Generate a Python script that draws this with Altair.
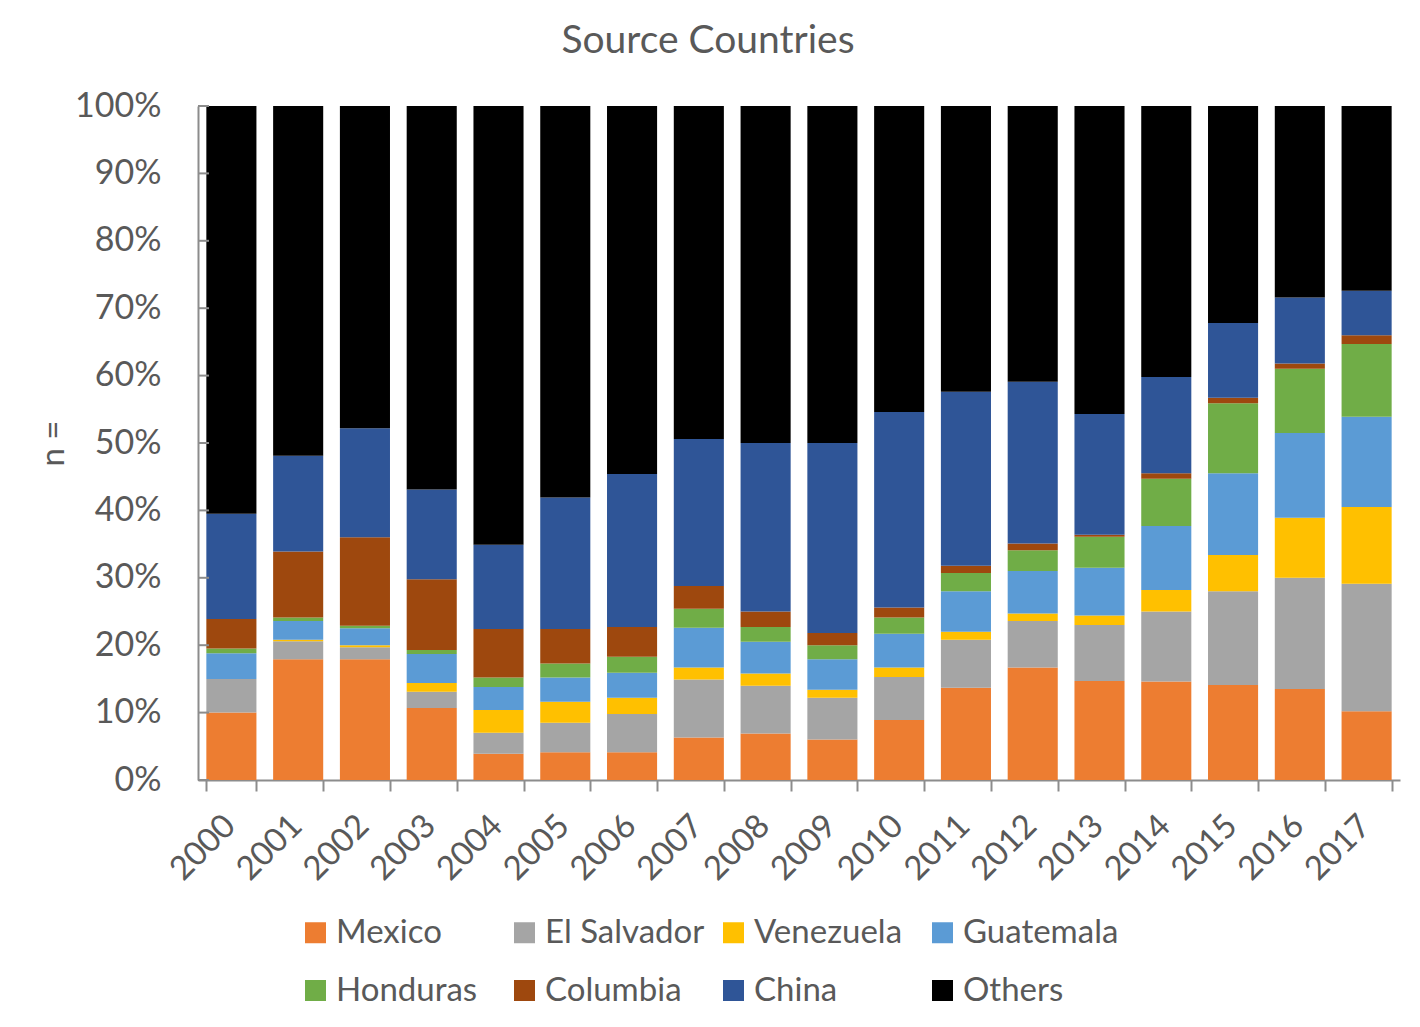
import altair as alt
import pandas as pd

years = ["2000", "2001", "2002", "2003", "2004", "2005", "2006", "2007", "2008",
         "2009", "2010", "2011", "2012", "2013", "2014", "2015", "2016", "2017"]
countries = ["Mexico", "El Salvador", "Venezuela", "Guatemala",
             "Honduras", "Columbia", "China", "Others"]
colors = ["#ED7D31", "#A5A5A5", "#FFC000", "#5B9BD5",
          "#70AD47", "#9E480E", "#2F5597", "#000000"]

# share of each source country per year (percent)
mexico = [10.0, 17.9, 17.9, 10.7, 3.9, 4.1, 4.1, 6.3, 6.9, 6.0, 8.9, 13.7, 16.7, 14.7, 14.6, 14.1, 13.5, 10.2]
el_salvador = [5.0, 2.7, 1.8, 2.4, 3.1, 4.4, 5.7, 8.6, 7.1, 6.2, 6.4, 7.1, 6.9, 8.3, 10.4, 13.9, 16.5, 18.9]
venezuela = [0.0, 0.2, 0.3, 1.3, 3.4, 3.1, 2.4, 1.8, 1.8, 1.2, 1.4, 1.2, 1.1, 1.4, 3.2, 5.4, 8.9, 11.4]
guatemala = [3.8, 2.8, 2.5, 4.3, 3.4, 3.6, 3.7, 5.9, 4.7, 4.5, 5.0, 6.0, 6.3, 7.1, 9.5, 12.1, 12.6, 13.4]
honduras = [0.7, 0.5, 0.4, 0.6, 1.4, 2.1, 2.4, 2.8, 2.2, 2.1, 2.4, 2.7, 3.1, 4.6, 7.0, 10.4, 9.5, 10.8]
columbia = [4.4, 9.8, 13.1, 10.5, 7.2, 5.1, 4.4, 3.4, 2.3, 1.8, 1.5, 1.1, 1.0, 0.3, 0.8, 0.8, 0.8, 1.3]
china = [15.6, 14.2, 16.2, 13.3, 12.5, 19.5, 22.7, 21.8, 25.0, 28.2, 29.0, 25.8, 24.0, 17.9, 14.3, 11.1, 9.8, 6.6]
others = [60.5, 51.9, 47.8, 56.9, 65.1, 58.1, 54.6, 49.4, 50.0, 50.0, 45.4, 42.4, 40.9, 45.7, 40.2, 32.2, 28.4, 27.4]

y_ticks = [0.0, 0.1, 0.2, 0.3, 0.4, 0.5, 0.6, 0.7, 0.8, 0.9, 1.0]

series = [mexico, el_salvador, venezuela, guatemala, honduras, columbia, china, others]
rows = []
for i, (name, vals) in enumerate(zip(countries, series)):
    for year, v in zip(years, vals):
        rows.append({"year": year, "country": name, "value": v, "idx": i})
df = pd.DataFrame(rows)

TEXT = "#595959"
AXIS = "#8C8C8C"
FONT = "Lato"

bars = (
    alt.Chart(df)
    .mark_bar()
    .encode(
        x=alt.X(
            "year:N",
            sort=years,
            scale=alt.Scale(paddingInner=0.25, paddingOuter=0.125),
            axis=alt.Axis(
                title=None,
                labelAngle=-45,
                labelAlign="right",
                labelBaseline="top",
                labelPadding=18,
                labelOffset=-13,
                labelFontSize=33,
                tickBand="extent",
                tickSize=11,
                tickWidth=2,
                tickColor=AXIS,
                domainColor=AXIS,
                domainWidth=2,
            ),
        ),
        y=alt.Y(
            "value:Q",
            stack="normalize",
            scale=alt.Scale(domain=[0, 1], nice=False),
            axis=alt.Axis(
                title="n =",
                format=".0%",
                values=y_ticks,
                ticks=False,
                grid=False,
                labelPadding=37,
                domainColor=AXIS,
                domainWidth=2,
                titleAngle=-90,
                titleX=-145,
                titleY=337,
                titleAlign="center",
                titleBaseline="middle",
                titleFontSize=33,
            ),
        ),
        color=alt.Color(
            "country:N",
            scale=alt.Scale(domain=countries, range=colors),
            legend=alt.Legend(
                title=None,
                orient="none",
                legendX=101,
                legendY=810,
                direction="horizontal",
                columns=4,
                gridAlign="all",
                columnPadding=12,
                rowPadding=24,
                symbolType="square",
                symbolSize=441,
                symbolStrokeWidth=0,
                labelOffset=4,
                labelFontSize=33,
                labelFont=FONT,
                labelColor=TEXT,
                labelLimit=400,
                padding=0,
            ),
        ),
        order=alt.Order("idx:Q", sort="ascending"),
    )
)

tick_df = pd.DataFrame({"tick": y_ticks})
inner_ticks = (
    alt.Chart(tick_df)
    .mark_rule(color=AXIS, strokeWidth=2)
    .encode(y=alt.Y("tick:Q"), x=alt.value(0), x2=alt.value(11))
)

chart = (
    alt.layer(bars, inner_ticks)
    .properties(
        width=1202,
        height=674,
        padding={"left": 190, "top": 98, "right": 6, "bottom": 230},
        autosize=alt.AutoSizeParams(type="none"),
        title=alt.TitleParams(
            "Source Countries",
            fontSize=39,
            font=FONT,
            fontWeight="normal",
            color=TEXT,
            anchor="middle",
            frame="group",
            baseline="alphabetic",
            offset=0,
            dx=-91,
            dy=3,
        ),
    )
    .configure_view(stroke=None)
    .configure_axis(
        labelFont=FONT,
        labelFontSize=34,
        labelColor=TEXT,
        titleFont=FONT,
        titleColor=TEXT,
        titleFontWeight="normal",
    )
)

chart.save("out.html", embed_options={"renderer": "svg", "actions": False})
